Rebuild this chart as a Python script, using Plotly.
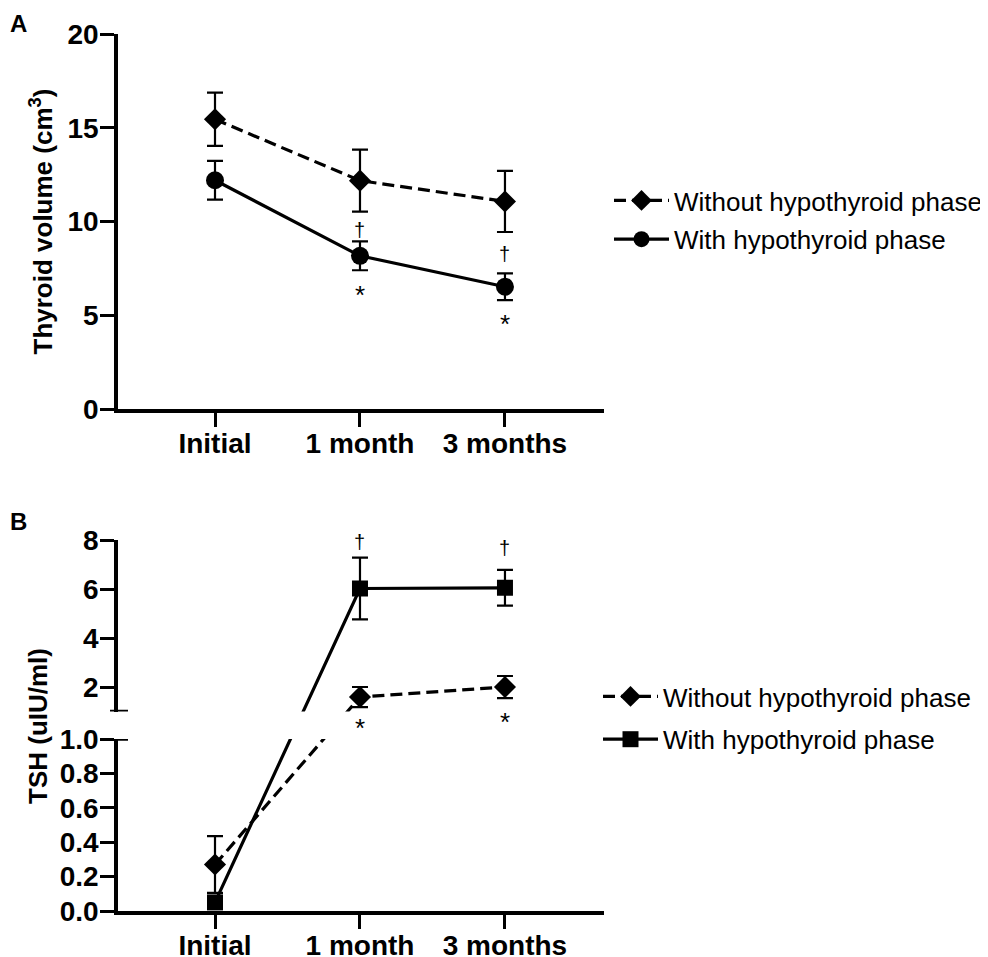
import plotly.graph_objects as go

W, H = 988, 957
OFF = 8  # the page body margin shifts the figure by this much

categories = ["Initial", "1 month", "3 months"]

# A: thyroid volume (cm3), mean and error
vol_without = [15.45, 12.18, 11.07]
vol_without_err = [1.42, 1.65, 1.63]
vol_with = [12.2, 8.17, 6.52]
vol_with_err = [1.03, 0.77, 0.71]

# B: TSH (uIU/ml), mean and error
tsh_without = [0.27, 1.59, 2.0]
tsh_without_err = [0.165, 0.41, 0.45]
tsh_with = [0.05, 6.02, 6.05]
tsh_with_err = [None, 1.26, 0.73]

vol_ticks = [0, 5, 10, 15, 20]
tsh_low_ticks = [0.0, 0.2, 0.4, 0.6, 0.8, 1.0]
tsh_high_ticks = [2, 4, 6, 8]

# significance marks
vol_mark_x = ["1 month", "1 month", "3 months", "3 months"]
vol_mark_y = [9.55, 6.1, 8.25, 4.55]
vol_mark_text = ["†", "*", "†", "*"]
tsh_dagger_x = ["1 month", "3 months"]
tsh_dagger_y = [7.92, 7.67]          # upper TSH axis
tsh_star_x = ["1 month", "3 months"]
tsh_star_px = [728, 722]             # they sit in the axis break


def px_x(p):
    return (p - OFF) / W


def px_y(p):
    return 1 - (p - OFF) / H


# layout geometry (screen pixels -> paper fractions)
X_DOM = [px_x(118), px_x(604)]
X_RANGE = [-0.669, 2.683]
A_DOM = [px_y(409), px_y(34)]
LOW_DOM = [px_y(911), px_y(739)]
HIGH_DOM = [px_y(711.5), px_y(540)]
LOW_RANGE = [0, 1]
HIGH_RANGE = [1, 8]


def to_paper(v):
    rng, dom = (LOW_RANGE, LOW_DOM) if v <= 1 else (HIGH_RANGE, HIGH_DOM)
    return dom[0] + (v - rng[0]) / (rng[1] - rng[0]) * (dom[1] - dom[0])


def on_axis(values, rng, dom):
    # express values of the broken axis in the units of one segment
    return [rng[0] + (to_paper(v) - dom[0]) / (dom[1] - dom[0]) * (rng[1] - rng[0]) for v in values]


def seg_err(values, errs, low):
    return [e if (v <= 1) == low else None for v, e in zip(values, errs)]


FONT = "Liberation Sans, Arial, sans-serif"
line_kw = dict(color="black", width=3.2)
dash_kw = dict(color="black", width=3.2, dash="12px,6px")
err_kw = dict(type="data", color="black", thickness=2.2, width=8, visible=True)

fig = go.Figure()

# panel A
fig.add_trace(go.Scatter(
    x=categories, y=vol_without, name="Without hypothyroid phase", mode="lines+markers",
    line=dash_kw, marker=dict(symbol="diamond", size=17, color="black"),
    error_y=dict(array=vol_without_err, **err_kw), xaxis="x", yaxis="y",
    legend="legend", legendgroup="a1"))
fig.add_trace(go.Scatter(
    x=categories, y=vol_with, name="With hypothyroid phase", mode="lines+markers",
    line=line_kw, marker=dict(symbol="circle", size=18, color="black"),
    error_y=dict(array=vol_with_err, **err_kw), xaxis="x", yaxis="y",
    legend="legend", legendgroup="a2"))

# panel B, drawn on both segments of the broken axis
for low, yax, rng, dom in [(True, "y2", LOW_RANGE, LOW_DOM), (False, "y3", HIGH_RANGE, HIGH_DOM)]:
    fig.add_trace(go.Scatter(
        x=categories, y=on_axis(tsh_without, rng, dom), name="Without hypothyroid phase",
        mode="lines+markers", line=dash_kw,
        marker=dict(symbol="diamond", size=17, color="black"),
        error_y=dict(array=seg_err(tsh_without, tsh_without_err, low), **err_kw),
        xaxis="x2", yaxis=yax, legend="legend2", showlegend=low, legendgroup="b1"))
    fig.add_trace(go.Scatter(
        x=categories, y=on_axis(tsh_with, rng, dom), name="With hypothyroid phase",
        mode="lines+markers", line=line_kw,
        marker=dict(symbol="square", size=16, color="black"),
        error_y=dict(array=seg_err(tsh_with, tsh_with_err, low), **err_kw),
        xaxis="x2", yaxis=yax, legend="legend2", showlegend=low, legendgroup="b2"))

axis_kw = dict(showline=True, linecolor="black", linewidth=3.5, ticks="outside", ticklen=14,
               tickwidth=3, tickcolor="black", showgrid=False, zeroline=False, automargin=False,
               tickfont=dict(family=FONT, size=28, color="black", weight="bold"))
xaxis_kw = dict(axis_kw, ticklabelstandoff=-7)
yaxis_kw = dict(axis_kw, ticklabelstandoff=-4)


def mark_font(t):
    return dict(family=FONT, size=26 if t == "*" else 20, color="black")


annotations = []
for x, y, t in zip(vol_mark_x, vol_mark_y, vol_mark_text):
    annotations.append(dict(x=x, y=y, xref="x", yref="y", text=t, showarrow=False,
                            xanchor="center", yanchor="middle", font=mark_font(t)))
for x, y in zip(tsh_dagger_x, tsh_dagger_y):
    annotations.append(dict(x=x, y=y, xref="x2", yref="y3", text="†", showarrow=False,
                            xanchor="center", yanchor="middle", font=mark_font("†")))
for x, p in zip(tsh_star_x, tsh_star_px):
    annotations.append(dict(x=x, y=px_y(p), xref="x2", yref="paper", text="*", showarrow=False,
                            xanchor="center", yanchor="middle", font=mark_font("*")))

title_font = dict(family=FONT, size=26, color="black", weight="bold")
for text, x, y in [("Thyroid volume (cm<sup>3</sup>)", 42, 221.5), ("TSH (uIU/ml)", 38, 726)]:
    annotations.append(dict(x=px_x(x), y=px_y(y), xref="paper", yref="paper", text=text,
                            textangle=-90, showarrow=False, xanchor="center",
                            yanchor="middle", font=title_font))

label_font = dict(family=FONT, size=24, color="black", weight="bold")
for text, y in [("A", 8), ("B", 506)]:
    annotations.append(dict(x=0, y=px_y(y), xref="paper", yref="paper", text=text,
                            showarrow=False, xanchor="left", yanchor="top", font=label_font))

# caps at the axis break
cap_kw = dict(type="line", xref="paper", line=dict(color="black", width=3.5))
shapes = [
    dict(x0=X_DOM[0] - 8 / W, x1=X_DOM[0] + 10 / W, yref="y3",
         y0=HIGH_RANGE[0], y1=HIGH_RANGE[0], **cap_kw),
    dict(x0=X_DOM[0], x1=X_DOM[0] + 10 / W, yref="y2",
         y0=LOW_RANGE[1], y1=LOW_RANGE[1], **cap_kw),
]

legend_font = dict(family=FONT, size=26, color="black")
fig.update_layout(
    width=W, height=H, autosize=False, margin=dict(l=0, r=0, t=0, b=0, autoexpand=False),
    plot_bgcolor="white", paper_bgcolor="white", showlegend=True,
    xaxis=dict(domain=X_DOM, range=X_RANGE, anchor="y", **xaxis_kw),
    yaxis=dict(domain=A_DOM, range=[0, 20], tickvals=vol_ticks, anchor="x", **yaxis_kw),
    xaxis2=dict(domain=X_DOM, range=X_RANGE, anchor="y2", **xaxis_kw),
    yaxis2=dict(domain=LOW_DOM, range=LOW_RANGE, tickvals=tsh_low_ticks, tickformat=".1f",
                anchor="x2", **yaxis_kw),
    yaxis3=dict(domain=HIGH_DOM, range=HIGH_RANGE, tickvals=tsh_high_ticks, anchor="x2",
                **yaxis_kw),
    legend=dict(x=px_x(609), y=px_y(177), xanchor="left", yanchor="top", font=legend_font,
                itemwidth=55, bgcolor="rgba(0,0,0,0)", traceorder="grouped",
                tracegroupgap=2),
    legend2=dict(x=px_x(598), y=px_y(673), xanchor="left", yanchor="top", font=legend_font,
                 itemwidth=55, bgcolor="rgba(0,0,0,0)", traceorder="grouped",
                 tracegroupgap=6),
    annotations=annotations,
    shapes=shapes,
)

fig.write_html("out.html")
